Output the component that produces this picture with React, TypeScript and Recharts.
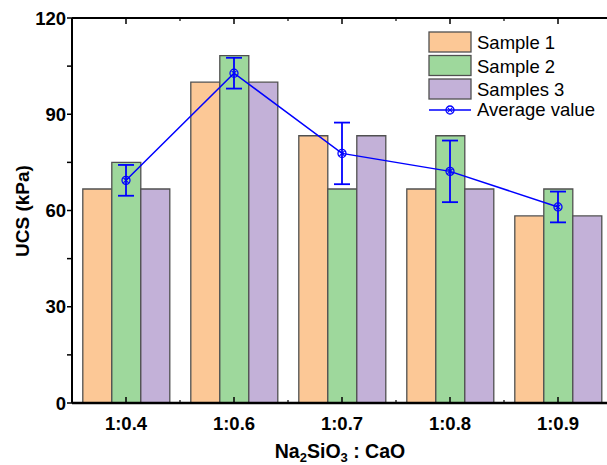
import React from 'react';
import { ComposedChart, Bar, Line, XAxis, YAxis, Legend, ErrorBar } from 'recharts';

const ratios = ['1:0.4', '1:0.6', '1:0.7', '1:0.8', '1:0.9'];
const sample1 = [66.7, 100, 83.3, 66.7, 58.3];
const sample2 = [75, 108.3, 66.7, 83.3, 66.7];
const sample3 = [66.7, 100, 83.3, 66.7, 58.3];
const average = [69.4, 102.8, 77.8, 72.2, 61.1];
const deviation = [4.8, 4.8, 9.6, 9.6, 4.8];
const yTicks = [0, 15, 30, 45, 60, 75, 90, 105, 120];

// no serif face is available in the sandbox, so Liberation Sans is used with sizes matched to the reference
const FONT = '"Liberation Sans", Arial, sans-serif';
const ORANGE = '#fcc896';
const GREEN = '#9ed89c';
const PURPLE = '#c3b1d8';
const BLUE = '#0000ff';
const EDGE = '#505050';

const data = ratios.map((ratio, i) => ({
  ratio,
  s1: sample1[i],
  s2: sample2[i],
  s3: sample3[i],
  avg: average[i],
  err: deviation[i],
}));

const Marker = ({ cx, cy }: { cx: number; cy: number }) => (
  <g>
    <circle cx={cx} cy={cy} r={4} fill="none" stroke={BLUE} strokeWidth={1.3} />
    <line x1={cx - 2.6} y1={cy - 2.6} x2={cx + 2.6} y2={cy + 2.6} stroke={BLUE} strokeWidth={1.1} />
    <line x1={cx - 2.6} y1={cy + 2.6} x2={cx + 2.6} y2={cy - 2.6} stroke={BLUE} strokeWidth={1.1} />
  </g>
);

// bottom tick: label plus a small minor tick at the band boundary
const BottomTick = (props: any) => {
  const { x, y, payload, index, visibleTicksCount } = props;
  const half = payload?.offset ?? 0;
  return (
    <g>
      <text x={x} y={y} dy="0.71em" textAnchor="middle" fontFamily={FONT} fontWeight="bold" fontSize={18.5} fill="#000">
        {payload.value}
      </text>
      {half > 0 && index < visibleTicksCount - 1 && (
        <line x1={x + half} x2={x + half} y1={y - 14} y2={y - 17} stroke="#000" strokeWidth={1.2} />
      )}
    </g>
  );
};

const TopTick = (props: any) => {
  const { x, y, payload, index, visibleTicksCount } = props;
  const half = payload?.offset ?? 0;
  if (!(half > 0 && index < visibleTicksCount - 1)) return <g />;
  return <line x1={x + half} x2={x + half} y1={y - 6} y2={y - 3} stroke="#000" strokeWidth={1.2} />;
};

const LegendBox = () => {
  const items = [
    ['Sample 1', ORANGE],
    ['Sample 2', GREEN],
    ['Samples 3', PURPLE],
  ];
  return (
    <svg width={200} height={100} style={{ overflow: 'visible' }}>
      {items.map(([name, color], i) => (
        <g key={name}>
          <rect x={4} y={4 + i * 23.5} width={42} height={20} fill={color} stroke={EDGE} strokeWidth={1.3} />
          <text x={52} y={21 + i * 23.5} fontFamily={FONT} fontSize={18.5} fill="#000">
            {name}
          </text>
        </g>
      ))}
      <line x1={4} x2={46} y1={82} y2={82} stroke={BLUE} strokeWidth={1.5} />
      <Marker cx={25} cy={82} />
      <text x={52} y={88} fontFamily={FONT} fontSize={18.5} fill="#000">
        Average value
      </text>
    </svg>
  );
};

export default function App() {
  return (
    <div
      style={{
        position: 'fixed',
        left: 0,
        top: 0,
        width: 607,
        height: 465,
        overflow: 'hidden',
        background: '#fff',
        fontFamily: FONT,
      }}
    >
      <ComposedChart
        width={640}
        height={465}
        data={data}
        margin={{ top: 18, right: 28, bottom: 0, left: 0 }}
        barGap={0}
        barCategoryGap="10%"
      >
        <XAxis
          dataKey="ratio"
          height={62}
          interval={0}
          tickSize={-6}
          tickMargin={20}
          axisLine={{ stroke: '#000', strokeWidth: 2.5 }}
          tickLine={{ stroke: '#000', strokeWidth: 1.5 }}
          tick={<BottomTick />}
          label={() => (
            <text x={340} y={458} textAnchor="middle" fontFamily={FONT} fontWeight="bold" fontSize={19.5} fill="#000">
              Na<tspan fontSize={13} dy={4}>2</tspan>
              <tspan dy={-4}>SiO</tspan>
              <tspan fontSize={13} dy={4}>3</tspan>
              <tspan dy={-4}> : CaO</tspan>
            </text>
          )}
        />
        <XAxis
          xAxisId="top"
          dataKey="ratio"
          orientation="top"
          mirror
          height={20}
          interval={0}
          tickSize={6}
          tickMargin={0}
          axisLine={{ stroke: '#000', strokeWidth: 2 }}
          tickLine={{ stroke: '#000', strokeWidth: 1.5 }}
          tick={<TopTick />}
        />
        <YAxis
          width={72}
          domain={[0, 120]}
          ticks={yTicks}
          allowDataOverflow
          tickSize={5}
          tickMargin={1}
          tickFormatter={(v: number) => (v % 30 === 0 ? String(v) : '')}
          axisLine={{ stroke: '#000', strokeWidth: 2 }}
          tickLine={{ stroke: '#000', strokeWidth: 1.5 }}
          tick={{ fontFamily: FONT, fontWeight: 'bold', fontSize: 18.5, fill: '#000' }}
          label={() => (
            <text
              x={22}
              y={211}
              transform="rotate(-90 22 211)"
              textAnchor="middle"
              dominantBaseline="central"
              fontFamily={FONT}
              fontWeight="bold"
              fontSize={19}
              fill="#000"
            >
              UCS (kPa)
            </text>
          )}
        />
        <YAxis
          yAxisId="right"
          orientation="right"
          mirror
          width={20}
          domain={[0, 120]}
          ticks={yTicks}
          allowDataOverflow
          tickSize={7}
          tick={false}
          axisLine={{ stroke: '#000', strokeWidth: 2 }}
          tickLine={{ stroke: '#000', strokeWidth: 1.5 }}
        />
        <Bar dataKey="s1" name="Sample 1" fill={ORANGE} stroke={EDGE} strokeWidth={1.3} isAnimationActive={false} />
        <Bar dataKey="s2" name="Sample 2" fill={GREEN} stroke={EDGE} strokeWidth={1.3} isAnimationActive={false} />
        <Bar dataKey="s3" name="Samples 3" fill={PURPLE} stroke={EDGE} strokeWidth={1.3} isAnimationActive={false} />
        <Line
          dataKey="avg"
          name="Average value"
          stroke={BLUE}
          strokeWidth={1.5}
          isAnimationActive={false}
          dot={(p: any) => <Marker key={p.index} cx={p.cx} cy={p.cy} />}
          activeDot={false}
        >
          <ErrorBar dataKey="err" width={8} stroke={BLUE} strokeWidth={1.8} direction="y" />
        </Line>
        <Legend
          layout="vertical"
          align="center"
          verticalAlign="middle"
          content={() => <LegendBox />}
          wrapperStyle={{ left: 425, top: 28, width: 200, height: 100 }}
        />
      </ComposedChart>
    </div>
  );
}
